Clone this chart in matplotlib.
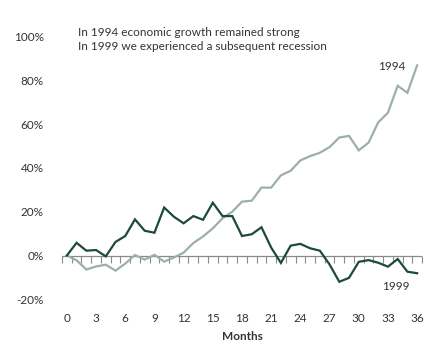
import matplotlib.pyplot as plt
import numpy as np

plt.rcParams['font.family'] = ['Lato', 'DejaVu Sans']
plt.rcParams['font.size'] = 8.5

months = np.arange(0, 37)

growth_1994 = [0.0, -2.2, -6.4, -5.0, -4.2, -6.9, -3.7, 0.2, -1.9, 0.3, -2.8, -0.9, 1.3,
               5.7, 8.7, 12.4, 17.0, 20.0, 24.6, 25.0, 31.0, 31.0, 36.6, 38.7, 43.4,
               45.4, 46.9, 49.5, 53.9, 54.6, 48.0, 51.5, 60.8, 65.2, 77.5, 74.3, 86.8]

growth_1999 = [0.0, 5.8, 2.2, 2.5, -0.4, 6.2, 8.9, 16.5, 11.3, 10.4, 21.9, 17.7, 14.7,
               18.0, 16.3, 24.1, 18.0, 18.0, 8.9, 9.7, 12.9, 3.6, -3.4, 4.5, 5.3,
               3.3, 2.2, -4.1, -12.0, -10.2, -2.9, -2.1, -3.3, -5.1, -1.6, -7.4, -8.1]

yticks = [-20, 0, 20, 40, 60, 80, 100]
xticks = np.arange(0, 37, 3)

dark = '#1c4a3b'
light = '#9cafa8'
text_col = '#333333'

fig = plt.figure(figsize=(4.46, 3.6), dpi=100)
ax = fig.add_axes([62 / 446, 1 - 299.3 / 360, 360 / 446, 262.8 / 360])

ax.plot(months, growth_1994, color=light, linewidth=1.6, solid_joinstyle='miter')
ax.plot(months, growth_1999, color=dark, linewidth=1.6, solid_joinstyle='miter')

ax.set_xlim(-0.5, 36.5)
ax.set_ylim(-20, 100)

for s in ax.spines.values():
    s.set_visible(False)

ax.axhline(0, color='#8a8a8a', linewidth=0.9, zorder=1)

# month ticks hanging from the zero line
sec = ax.secondary_xaxis(20 / 120)
sec.spines['bottom'].set_visible(False)
sec.set_xticks(np.arange(-0.5, 37, 1))
sec.tick_params(axis='x', length=5, width=0.8, color='#8a8a8a', labelbottom=False)

ax.set_xticks(xticks)
ax.set_xticklabels([str(m) for m in xticks])
ax.set_yticks(yticks)
ax.set_yticklabels([f'{v}%' for v in yticks])
ax.tick_params(axis='x', length=0, pad=10, colors=text_col, labelsize=8.5)
ax.tick_params(axis='y', length=0, pad=13, colors=text_col, labelsize=8.5)

ax.set_xlabel('Months', fontweight='bold', color=text_col, fontsize=8.5, labelpad=5)

fig.text(78 / 446, 1 - 27 / 360,
         'In 1994 economic growth remained strong\nIn 1999 we experienced a subsequent recession',
         ha='left', va='top', color=text_col, fontsize=8.5, linespacing=1.35)

ax.text(33.4, 86.5, '1994', ha='center', va='center', color=text_col, fontsize=8.5)
ax.text(33.8, -14, '1999', ha='center', va='center', color=text_col, fontsize=8.5)

plt.savefig('out.png', dpi=100)
